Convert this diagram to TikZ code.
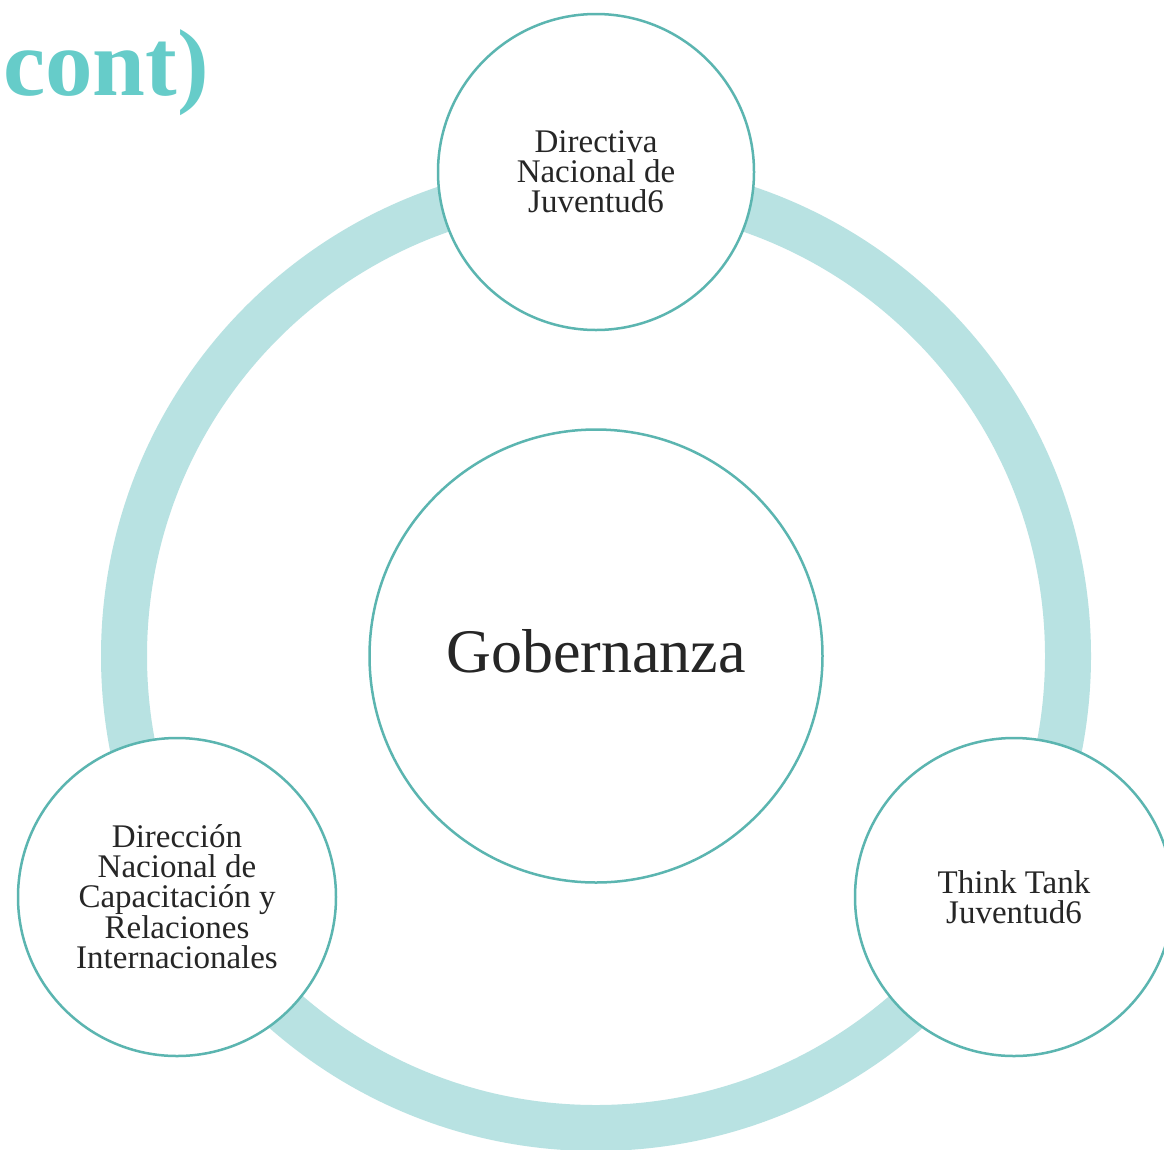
\documentclass[tikz,border=0pt]{standalone}
\usepackage{fontspec}
\setmainfont{Liberation Serif}
\definecolor{ringc}{HTML}{B8E2E2}
\definecolor{edgec}{HTML}{5BB5B0}
\definecolor{titlec}{HTML}{66CCC9}
\definecolor{txtc}{HTML}{262626}
\begin{document}
\begin{tikzpicture}[x=1pt,y=-1pt,
  bub/.style={circle,draw=edgec,line width=2.5pt,fill=white,inner sep=0pt,
    text=txtc,align=center,font=\fontsize{33}{30}\selectfont},
  hub/.style={bub,font=\fontsize{62}{62}\selectfont,text depth=11pt}]
\useasboundingbox (0,0) rectangle (1164,1149);
\fill[white] (0,0) rectangle (1164,1149);
\coordinate (c) at (596,656);
\draw[ringc,line width=46pt] (c) circle[radius=472];
\node[hub,minimum size=453pt] (g) at (c) {Gobernanza};
\node[bub,minimum size=316pt] (t) at (596,172) {Directiva\\Nacional de\\Juventud6};
\node[bub,minimum size=318pt] (l) at (177,897) {Dirección\\Nacional de\\Capacitación y\\Relaciones\\Internacionales};
\node[bub,minimum size=318pt] (r) at (1014,897) {Think Tank\\Juventud6};
\node[anchor=base west,inner sep=0pt,text=titlec,font=\bfseries\fontsize{95}{95}\selectfont] (title) at (3,95) {cont)};
\end{tikzpicture}
\end{document}
